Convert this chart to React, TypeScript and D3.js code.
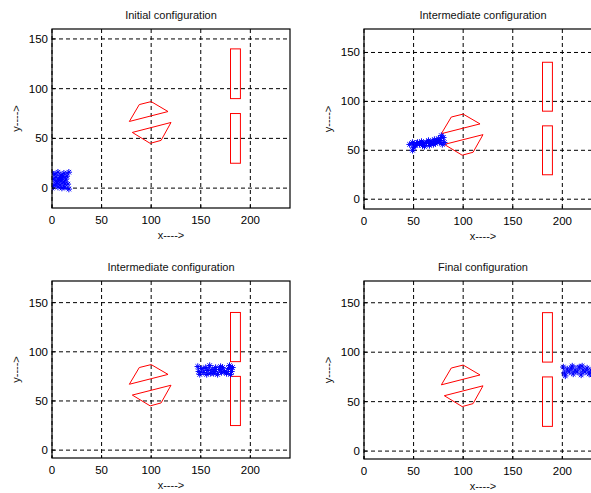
import React from "react";
import * as d3 from "d3";

// ---- data ----
const titles = ["Initial configuration", "Intermediate configuration", "Intermediate configuration", "Final configuration"];
const xTicks = [0, 50, 100, 150, 200];
const yTicks = [0, 50, 100, 150];
const xDomain = [0, 240];
const yDomains = [[-20, 160], [-10, 174], [-8, 172], [-8, 172]];

const obstacleRects = [
  [180, 25, 190, 75],
  [180, 90, 190, 140],
];
const polyUpper = [[78, 67], [88, 84], [100, 87], [117, 77]];
const polyLower = [[81, 56], [120, 66], [110, 48], [99, 45]];

const swarmInitial = [
  [0, 15], [3, 14], [6, 16], [9, 13], [12, 15], [17, 16], [15, 12], [10, 10], [7, 8], [4, 11],
  [1, 9], [5, 5], [8, 3], [12, 6], [14, 9], [16, 4], [13, 1], [10, 0], [17, -1], [6, 1],
  [2, 3], [0, 0], [9, 7], [11, 12], [4, 7], [8, 11], [13, 4],
];
const swarmMid1 = [
  [46, 56], [49, 58], [50, 53], [49, 50], [52, 55], [54, 58], [56, 56], [58, 59], [60, 57], [61, 54],
  [63, 58], [65, 60], [67, 57], [69, 59], [70, 56], [71, 61], [73, 59], [75, 62], [77, 60], [78, 65],
  [80, 63], [81, 58], [79, 56], [76, 58], [72, 57], [66, 55], [59, 55], [53, 57],
];
const swarmMid2 = [
  [147, 85], [148, 80], [149, 77], [151, 83], [153, 79], [155, 84], [157, 81], [159, 86], [160, 78], [162, 82],
  [164, 80], [165, 84], [167, 77], [169, 82], [171, 79], [172, 84], [174, 80], [176, 78], [178, 83], [179, 86],
  [181, 80], [182, 84], [180, 77], [170, 85], [163, 78], [156, 77],
];
const swarmFinal = [
  [201, 85], [202, 79], [203, 76], [205, 83], [207, 80], [209, 84], [211, 78], [213, 82], [215, 80], [217, 85],
  [219, 77], [221, 82], [223, 80], [225, 84], [227, 78], [229, 82], [231, 80], [233, 85], [235, 79], [237, 83],
  [239, 80], [240, 77], [230, 77], [220, 86], [210, 86],
];
const swarms = [swarmInitial, swarmMid1, swarmMid2, swarmFinal];

// ---- layout ----
const panels = [
  { left: 52, top: 29, width: 238, height: 179 },
  { left: 364, top: 29, width: 238, height: 180 },
  { left: 52, top: 281, width: 238, height: 177 },
  { left: 364, top: 281, width: 238, height: 178 },
];

const FONT = "'Liberation Sans', Arial, Helvetica, sans-serif";

function Star({ x, y }: { x: number; y: number }) {
  const r = 3.2;
  const d = r * 0.707;
  return (
    <path
      d={`M${x - r},${y}L${x + r},${y}M${x},${y - r}L${x},${y + r}M${x - d},${y - d}L${x + d},${y + d}M${x - d},${y + d}L${x + d},${y - d}`}
      stroke="#0000ff"
      strokeWidth={1}
      fill="none"
    />
  );
}

function Panel({ idx }: { idx: number }) {
  const p = panels[idx];
  const x = d3.scaleLinear().domain(xDomain).range([p.left, p.left + p.width]);
  const y = d3.scaleLinear().domain(yDomains[idx]).range([p.top + p.height, p.top]);
  const line = d3
    .line<number[]>()
    .x((d) => x(d[0]))
    .y((d) => y(d[1]));
  const swarm = swarms[idx];
  const clipId = `clip${idx}`;
  const cx = p.left + p.width / 2;
  return (
    <g>
      <defs>
        <clipPath id={clipId}>
          <rect x={p.left} y={p.top} width={p.width} height={p.height} />
        </clipPath>
      </defs>
      <rect x={p.left} y={p.top} width={p.width} height={p.height} fill="#ffffff" />
      {/* grid */}
      {xTicks.map((t) => (
        <line key={"gx" + t} x1={x(t)} x2={x(t)} y1={p.top} y2={p.top + p.height} stroke="#000" strokeWidth={1} strokeDasharray="4,3" />
      ))}
      {yTicks.map((t) => (
        <line key={"gy" + t} x1={p.left} x2={p.left + p.width} y1={y(t)} y2={y(t)} stroke="#000" strokeWidth={1} strokeDasharray="4,3" />
      ))}
      {/* content */}
      <g clipPath={`url(#${clipId})`}>
        {obstacleRects.map((r, i) => (
          <rect
            key={"r" + i}
            x={x(r[0])}
            y={y(r[3])}
            width={x(r[2]) - x(r[0])}
            height={y(r[1]) - y(r[3])}
            fill="none"
            stroke="#ff0000"
            strokeWidth={1}
          />
        ))}
        <path d={line(polyUpper)! + "Z"} fill="none" stroke="#ff0000" strokeWidth={1} />
        <path d={line(polyLower)! + "Z"} fill="none" stroke="#ff0000" strokeWidth={1} />
        <path d={line(swarm)!} fill="none" stroke="#0000ff" strokeWidth={0.8} />
        {swarm.map((d, i) => (
          <Star key={"s" + i} x={x(d[0])} y={y(d[1])} />
        ))}
      </g>
      {/* box */}
      <rect x={p.left} y={p.top} width={p.width} height={p.height} fill="none" stroke="#000" strokeWidth={1.2} />
      {/* ticks */}
      {xTicks.map((t) => (
        <g key={"tx" + t}>
          <line x1={x(t)} x2={x(t)} y1={p.top + p.height} y2={p.top + p.height - 3} stroke="#000" />
          <text x={x(t)} y={p.top + p.height + 16} textAnchor="middle" fontSize={11.5} fontFamily={FONT} fill="#000">
            {t}
          </text>
        </g>
      ))}
      {yTicks.map((t) => (
        <g key={"ty" + t}>
          <line x1={p.left} x2={p.left + 3} y1={y(t)} y2={y(t)} stroke="#000" />
          <text x={p.left - 4} y={y(t) + 4} textAnchor="end" fontSize={11.5} fontFamily={FONT} fill="#000">
            {t}
          </text>
        </g>
      ))}
      {/* labels */}
      <text x={cx} y={p.top - 10} textAnchor="middle" fontSize={11} fontFamily={FONT} fill="#111">
        {titles[idx]}
      </text>
      <text x={cx} y={p.top + p.height + 31} textAnchor="middle" fontSize={11} fontFamily={FONT} fill="#111">
        x----&gt;
      </text>
      <text
        transform={`translate(${p.left - 32},${p.top + p.height / 2}) rotate(-90)`}
        textAnchor="middle"
        fontSize={11}
        fontFamily={FONT}
        fill="#111"
      >
        y----&gt;
      </text>
    </g>
  );
}

export default function App() {
  return (
    <svg
      width={591}
      height={493}
      style={{ position: "absolute", left: 0, top: 0, background: "#fff" }}
    >
      <rect x={0} y={0} width={591} height={493} fill="#fff" />
      {panels.map((_, i) => (
        <Panel key={i} idx={i} />
      ))}
    </svg>
  );
}
